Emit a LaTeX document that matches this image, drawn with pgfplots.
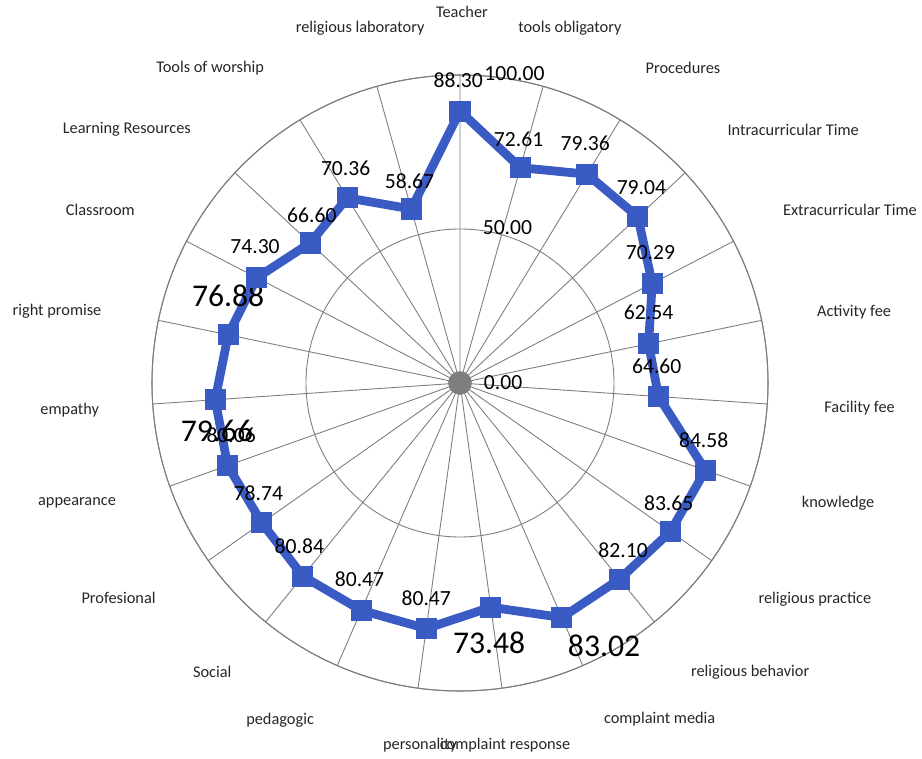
\documentclass[border=0pt]{standalone}
\usepackage{pgfplots}
\usepackage{pgfplotstable}
\pgfplotsset{compat=1.18}
\usepgfplotslibrary{polar}
\usepackage{fontspec}
\setmainfont{Carlito}
\definecolor{serblue}{RGB}{59,91,196}
\definecolor{gridgray}{RGB}{125,125,125}

% idx value label dx(pt) dy(pt) big
\pgfplotstableread{
idx val lab dx dy big
0 88.30 88.30 -1 17.5 0
1 72.61 72.61 -1 16 0
2 79.36 79.36 -1 17.5 0
3 79.04 79.04 2 16.5 0
4 70.29 70.29 -1 17.5 0
5 62.54 62.54 0 18 0
6 64.60 64.60 -1 17 0
7 84.58 84.58 -1 17 0
8 83.65 83.65 -1 16 0
9 82.10 82.10 2 16.5 0
10 83.02 83.02 24 -16 1
11 73.48 73.48 -1 -20.5 1
12 80.47 80.47 0 17 0
13 80.47 80.47 -1 17.5 0
14 80.84 80.84 -2 17 0
15 78.74 78.74 -2 17 0
16 80.06 80.06 2 17.5 0
17 79.66 79.66 1 -18 1
18 76.88 76.88 0 22 1
19 74.30 74.30 -1 17.5 0
20 66.60 66.60 1 15.5 0
21 70.36 70.36 -1 17 0
22 58.67 58.67 -1 16 0
23 88.30 {} 0 0 0
}\datatable

\begin{document}
\begin{tikzpicture}
\useasboundingbox (0,0) rectangle (18.44cm,15.18cm);
\begin{polaraxis}[
  at={(9.2cm,7.52cm)}, anchor=center,
  scale only axis, width=12.32cm, height=12.32cm,
  ymin=0, ymax=100,
  ytick={50,100},
  xtick={90,74.348,58.696,43.043,27.391,11.739,356.087,340.435,324.783,309.130,293.478,277.826,262.174,246.522,230.870,215.217,199.565,183.913,168.261,152.609,136.957,121.304,105.652},
  xticklabels={}, yticklabels={},
  major tick length=0pt,
  xmajorgrids, ymajorgrids,
  grid style={gridgray, line width=0.5pt},
  x axis line style={gridgray, line width=0.6pt},
  y axis line style={draw=none},
  clip=false,
]
% center dot
\addplot[only marks, mark=*, mark size=6.5pt, gridgray] coordinates {(0,0)};

\addplot[
  serblue, line width=5pt, line join=round,
  mark=square*, mark size=5.7pt, mark options={fill=serblue, draw=serblue, line width=0pt},
  x filter/.expression={90-x*360/23},
  point meta=explicit symbolic,
  visualization depends on={\thisrow{dx}\as\mydx},
  visualization depends on={\thisrow{dy}\as\mydy},
  visualization depends on={\thisrow{big}\as\isbig},
  nodes near coords,
  every node near coord/.append style={
    anchor=center, inner sep=0pt, text=black,
    xshift=\mydx pt, yshift=\mydy pt,
    font={\ifdim\isbig pt>0.5pt\fontsize{18}{20}\selectfont\else\fontsize{12.3}{14}\selectfont\fi}},
] table[x=idx, y=val, meta=lab] {\datatable};

% radial axis labels
\node[font=\fontsize{12.3}{14}\selectfont, anchor=center] at (axis cs:90,0) [xshift=24.5pt, yshift=0pt] {0.00};
\node[font=\fontsize{12.3}{14}\selectfont, anchor=center] at (axis cs:90,50) [xshift=27pt, yshift=1pt] {50.00};
\node[font=\fontsize{12.3}{14}\selectfont, anchor=center] at (axis cs:90,100) [xshift=31pt, yshift=1pt] {100.00};

% category labels
\begin{scope}[every node/.style={font=\fontsize{9.3}{11}\selectfont, text=black!85, anchor=center}]
\node at (axis cs:89.7,120.5) {Teacher};
\node at (axis cs:72.8,120.7) {tools obligatory};
\node at (axis cs:54.7,125.3) {Procedures};
\node at (axis cs:37.2,135.8) {Intracurricular Time};
\node at (axis cs:23.9,138.5) {Extracurricular Time};
\node at (axis cs:10.2,130) {Activity fee};
\node at (axis cs:-3.6,130) {Facility fee};
\node at (axis cs:-17.6,128.8) {knowledge};
\node at (axis cs:-31.4,135) {religious practice};
\node at (axis cs:-44.9,133) {religious behavior};
\node at (axis cs:-59.3,127) {complaint media};
\node at (axis cs:-82.9,118.5) {complaint response};
\node at (axis cs:-96.3,118.2) {personality};
\node at (axis cs:-118.1,124) {pedagogic};
\node at (axis cs:-130.6,123.6) {Social};
\node at (axis cs:-147.8,131) {Profesional};
\node at (axis cs:-162.6,130.3) {appearance};
\node at (axis cs:-176,127) {empathy};
\node at (axis cs:169.9,132.9) {right promise};
\node at (axis cs:154.3,129.6) {Classroom};
\node at (axis cs:142.7,136) {Learning Resources};
\node at (axis cs:128.4,130.6) {Tools of worship};
\node at (axis cs:105.7,119.8) {religious laboratory};
\end{scope}
\end{polaraxis}
\end{tikzpicture}
\end{document}
